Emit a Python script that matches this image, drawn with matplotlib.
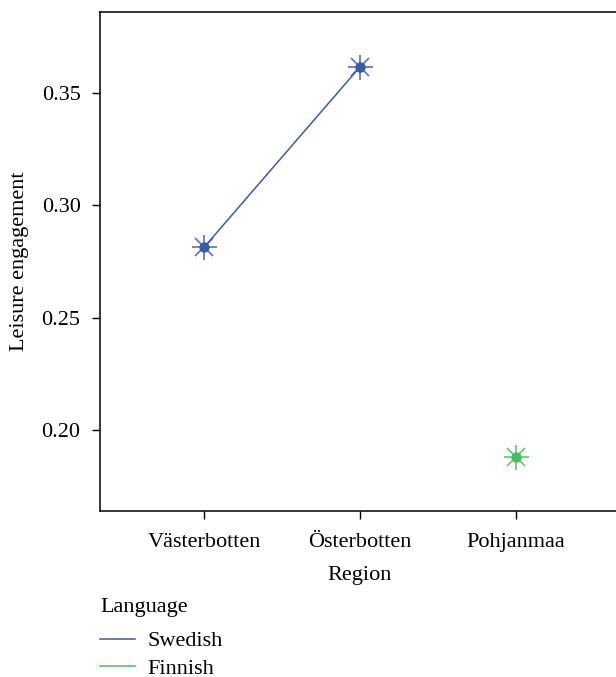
import numpy as np
import matplotlib
matplotlib.use("Agg")
from matplotlib import pyplot as plt
from matplotlib.lines import Line2D

regions = ["Västerbotten", "Österbotten", "Pohjanmaa"]
swedish_idx = [0, 1]
swedish_vals = [0.2813, 0.3616]
finnish_idx = [2]
finnish_vals = [0.188]
yticks = [0.20, 0.25, 0.30, 0.35]

BLUE = "#3b5ba9"
GREEN = "#4dbb5f"
FS = 16

plt.rcParams['font.family'] = ['Liberation Serif', 'DejaVu Serif']

W, H = 616, 677
fig = plt.figure(figsize=(W / 100, H / 100), dpi=100)
# axes box runs past the right edge of the picture, as in the reference
ax = fig.add_axes([100 / W, 1 - 511 / H, 520 / W, 499 / H])


def draw_series(x, y, color, line=True):
    if line:
        ax.plot(x, y, color=color, lw=1.1, zorder=2)
    ax.plot(x, y, ls="none", marker="+", ms=18, mew=1.3, color=color, alpha=0.8, zorder=3)
    ax.plot(x, y, ls="none", marker="x", ms=12.5, mew=1.3, color=color, alpha=0.8, zorder=3)
    ax.plot(x, y, ls="none", marker="o", ms=7.5, mew=0, color=color, zorder=4)


draw_series(swedish_idx, swedish_vals, BLUE)
draw_series(finnish_idx, finnish_vals, GREEN, line=False)

ax.set_xlim(-0.667, 2.667)
ax.set_ylim(0.164, 0.386)
ax.set_xticks(range(len(regions)))
ax.set_xticklabels(regions)
ax.set_yticks(yticks)
ax.set_yticklabels(["%.2f" % v for v in yticks])
ax.tick_params(direction="out", length=6, width=1, labelsize=FS)
ax.tick_params(axis="x", pad=10)
ax.tick_params(axis="y", pad=8)
for s in ax.spines.values():
    s.set_linewidth(1.1)
ax.set_xlabel("Region", fontsize=FS, labelpad=10)
ax.set_ylabel("Leisure engagement", fontsize=FS, labelpad=9)

handles = [Line2D([], [], color=BLUE, lw=1.1), Line2D([], [], color=GREEN, lw=1.1)]
leg = fig.legend(handles, ["Swedish", "Finnish"], title="Language",
                 loc="upper left", bbox_to_anchor=(100 / W, 1 - 598 / H),
                 frameon=False, fontsize=FS, title_fontsize=FS, borderpad=0,
                 borderaxespad=0, handlelength=1.58, handletextpad=0.54,
                 labelspacing=0.3)
leg._legend_box.align = "left"
leg._legend_box.sep = 10  # extra room between title and entries

fig.savefig("out.png", dpi=100)
